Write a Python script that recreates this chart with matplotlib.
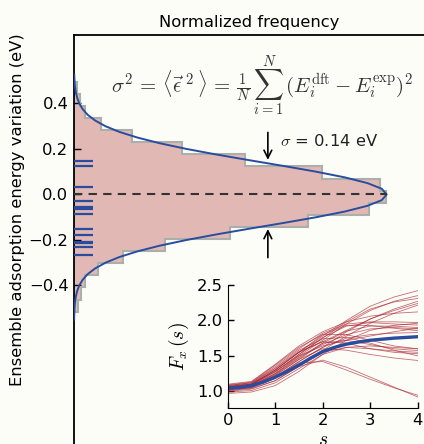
import matplotlib
matplotlib.use('Agg')
import matplotlib.pyplot as plt
import numpy as np

plt.rcParams['mathtext.fontset'] = 'cm'
plt.rcParams['font.family'] = 'DejaVu Sans'

# histogram of ensemble energy variations (eV), bins from bottom to top
bin_edges = [-0.515, -0.462, -0.408, -0.355, -0.302, -0.249, -0.196, -0.142, -0.089,
             -0.036, 0.017, 0.070, 0.124, 0.177, 0.230, 0.283, 0.336, 0.390, 0.443, 0.496]
bin_freq = [0.035, 0.06, 0.10, 0.22, 0.45, 0.83, 1.42, 2.13, 2.69, 2.84,
            2.79, 2.26, 1.56, 0.98, 0.53, 0.25, 0.10, 0.055, 0.03]

# fitted normal curve (sigma = 0.14 eV)
curve_e = [-0.55, -0.525, -0.5, -0.475, -0.45, -0.425, -0.4, -0.375, -0.35, -0.325, -0.3,
           -0.275, -0.25, -0.225, -0.2, -0.175, -0.15, -0.125, -0.1, -0.075, -0.05, -0.025,
           0.0, 0.025, 0.05, 0.075, 0.1, 0.125, 0.15, 0.175, 0.2, 0.225, 0.25, 0.275, 0.3,
           0.325, 0.35, 0.375, 0.4, 0.425, 0.45, 0.475, 0.5, 0.525]
curve_freq = [0.0013, 0.0025, 0.0048, 0.0090, 0.0163, 0.0284, 0.0481, 0.0789, 0.125, 0.193,
              0.287, 0.414, 0.579, 0.783, 1.027, 1.305, 1.605, 1.913, 2.208, 2.469, 2.674,
              2.805, 2.85, 2.805, 2.674, 2.469, 2.208, 1.913, 1.605, 1.305, 1.027, 0.783,
              0.579, 0.414, 0.287, 0.193, 0.125, 0.0789, 0.0481, 0.0284, 0.0163, 0.0090,
              0.0048, 0.0025]

# individual adsorption energy deviations (rug)
rug_e = [0.147, 0.125, 0.032, -0.027, -0.054, -0.064, -0.086, -0.152, -0.178,
         -0.207, -0.214, -0.229, -0.266]

sigma = 0.14

# inset: enhancement factors F_x(s)
s_vals = [0, 0.5, 1.0, 1.5, 2.0, 2.5, 3.0, 3.5, 4.0]
ensemble = [
    [1.06, 1.10, 1.30, 1.55, 1.78, 2.00, 2.20, 2.33, 2.42],
    [1.04, 1.08, 1.25, 1.50, 1.72, 1.95, 2.14, 2.27, 2.35],
    [1.05, 1.09, 1.28, 1.52, 1.75, 1.98, 2.16, 2.26, 2.31],
    [1.03, 1.06, 1.20, 1.42, 1.62, 1.84, 2.02, 2.16, 2.27],
    [1.07, 1.11, 1.32, 1.56, 1.70, 1.86, 2.02, 2.14, 2.24],
    [1.02, 1.05, 1.18, 1.38, 1.58, 1.78, 1.96, 2.10, 2.215],
    [1.08, 1.12, 1.35, 1.60, 1.82, 1.95, 1.98, 1.98, 1.97],
    [1.05, 1.09, 1.27, 1.52, 1.76, 1.92, 1.97, 1.95, 1.935],
    [1.04, 1.07, 1.22, 1.45, 1.68, 1.85, 1.92, 1.92, 1.90],
    [1.06, 1.10, 1.30, 1.55, 1.80, 1.93, 1.93, 1.89, 1.855],
    [1.03, 1.06, 1.20, 1.42, 1.62, 1.75, 1.80, 1.82, 1.83],
    [1.09, 1.13, 1.37, 1.62, 1.80, 1.80, 1.72, 1.64, 1.60],
    [1.05, 1.08, 1.25, 1.48, 1.68, 1.72, 1.66, 1.60, 1.575],
    [1.01, 1.04, 1.15, 1.35, 1.55, 1.62, 1.60, 1.57, 1.55],
    [1.07, 1.10, 1.30, 1.55, 1.70, 1.68, 1.60, 1.55, 1.53],
    [1.04, 1.07, 1.23, 1.45, 1.60, 1.58, 1.52, 1.47, 1.435],
    [1.02, 1.05, 1.20, 1.40, 1.42, 1.30, 1.17, 1.05, 0.944],
    [1.00, 1.03, 1.15, 1.35, 1.44, 1.34, 1.20, 1.06, 0.92],
    [0.97, 0.99, 1.08, 1.28, 1.52, 1.72, 1.86, 1.93, 1.96],
    [1.10, 1.14, 1.38, 1.64, 1.84, 1.98, 2.06, 2.10, 2.12],
    [0.99, 1.01, 1.12, 1.32, 1.52, 1.62, 1.64, 1.62, 1.60],
    [1.06, 1.10, 1.28, 1.50, 1.64, 1.72, 1.78, 1.84, 1.89],
    [1.03, 1.07, 1.24, 1.47, 1.66, 1.80, 1.88, 1.90, 1.88],
    [1.08, 1.12, 1.33, 1.58, 1.74, 1.76, 1.68, 1.58, 1.50],
]
s_best = [0, 0.25, 0.5, 0.75, 1.0, 1.25, 1.5, 1.75, 2.0, 2.25, 2.5, 2.75, 3.0, 3.25, 3.5, 3.75, 4.0]
fx_best = [1.045, 1.055, 1.08, 1.13, 1.20, 1.28, 1.37, 1.47, 1.56, 1.62, 1.665, 1.695,
           1.72, 1.735, 1.75, 1.76, 1.77]

bg = '#fdfdf8'
blue = '#2a4c9e'
fig = plt.figure(figsize=(4.24, 4.44), dpi=100, facecolor=bg)

ax = fig.add_axes([74/424, 0, 350/424, 1 - 35/444], facecolor=bg)
ax.stairs(bin_freq, bin_edges, orientation='horizontal', fill=True,
          color='#e2b8b4', zorder=1)
ax.stairs(bin_freq, bin_edges, orientation='horizontal', fill=False,
          color='#a9b0aa', lw=1.5, zorder=2)
ax.plot(curve_freq, curve_e, color=blue, lw=1.4, zorder=4)
ax.hlines(rug_e, 0, 0.17, color=blue, lw=1.6, zorder=3)
ax.plot([0, 2.85], [0, 0], color='#333333', lw=1.5, ls=(0, (4, 3)), zorder=5)

ax.annotate('', xy=(1.767, sigma), xytext=(1.767, 0.285),
            arrowprops=dict(arrowstyle='->', color='black', lw=1.2, mutation_scale=14))
ax.annotate('', xy=(1.767, -sigma), xytext=(1.767, -0.29),
            arrowprops=dict(arrowstyle='->', color='black', lw=1.2, mutation_scale=14))
fig.text(280/424, 1 - 141/444, r'$\sigma$ = 0.14 eV', fontsize=11.8, va='center',
         color='#222222')
fig.text(262/424, 1 - 86/444,
         r'$\sigma^2\,=\,\langle\vec{\epsilon}^{\;2}\,\rangle\,=\,\frac{1}{N}\,\sum_{i=1}^{N}\,(E_i^{\rm dft}-E_i^{\rm exp})^2$',
         fontsize=15, ha='center', va='center', color='#333333')

ax.set_xlim(0, 3.19)
ax.set_ylim(-1.097, 0.701)
ax.set_yticks([-0.4, -0.2, 0.0, 0.2, 0.4])
ax.set_yticklabels(['\u22120.4', '\u22120.2', '0.0', '0.2', '0.4'])
ax.set_xticks([])
ax.tick_params(axis='y', direction='in', length=5, width=1, labelsize=11.8, pad=4)
ax.spines['right'].set_visible(False)
ax.spines['bottom'].set_visible(False)
ax.spines['left'].set_linewidth(1.3)
ax.spines['top'].set_linewidth(1.3)
ax.xaxis.set_label_position('top')
ax.set_xlabel('Normalized frequency', fontsize=11.8, labelpad=6)
fig.text(18/424, 1 - 210/444, 'Ensemble adsorption energy variation (eV)',
         rotation=90, fontsize=11.8, ha='center', va='center')

ins = fig.add_axes([227.7/424, 1 - 408.3/444, 190/424, 123.3/444], facecolor=bg)
for fx in ensemble:
    ins.plot(s_vals, fx, color='#a8202e', lw=0.6, alpha=0.65)
ins.plot(s_best, fx_best, color=blue, lw=2.4)
ins.set_xlim(0, 4)
ins.set_ylim(0.76, 2.5)
ins.set_xticks([0, 1, 2, 3, 4])
ins.set_yticks([1.0, 1.5, 2.0, 2.5])
ins.tick_params(direction='in', length=4, width=1, labelsize=11.8)
ins.spines['right'].set_visible(False)
ins.spines['top'].set_visible(False)
ins.set_ylabel(r'$F_x\,(s)$', fontsize=14, labelpad=4)
ins.set_xlabel(r'$s$', fontsize=14, labelpad=1)

fig.savefig('out.png', dpi=100, facecolor=bg)
